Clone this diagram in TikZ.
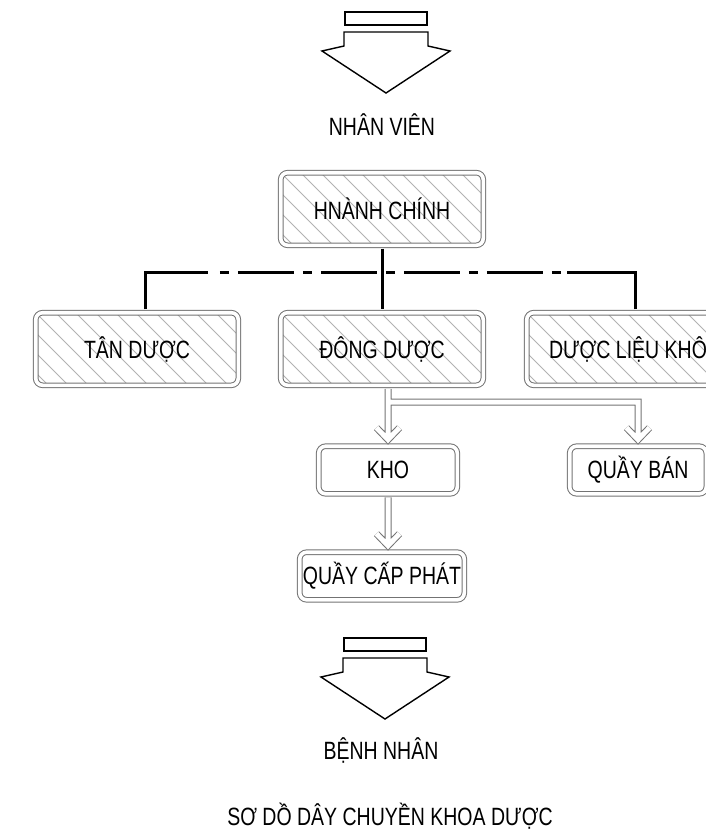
\documentclass[tikz,border=0pt]{standalone}
\usepackage{fontspec}
\setmainfont{Liberation Sans}[FakeStretch=0.78]
\usetikzlibrary{calc}

\begin{document}
\begin{tikzpicture}[x=0.5pt,y=-0.5pt,font=\fontsize{12.5}{14}\selectfont,
  frame/.style={draw=black!55,line width=0.5pt,double=white,double distance=1.8pt,rounded corners=3.5pt,inner sep=0pt},
  hatched/.style={frame,minimum width=101.3pt,minimum height=36.3pt,
    path picture={\foreach \k in {0,...,15}
      \draw[black!30,line width=0.4pt] ([xshift=\k*10pt-40pt]path picture bounding box.north west) -- ++(45pt,-45pt);}},
  plain/.style={frame,minimum height=23.8pt},
  bus/.style={line width=1.5pt,shorten <=1.4pt},
  pipe/.style={draw=black!55,line width=0.5pt,double=white,double distance=2.5pt},
  sign/.style={line width=0.7pt}]
\clip (0,0) rectangle (706,830);
% staff in
\coordinate (staff) at (386,32);
\draw[sign] (staff) ++(-41,-20) rectangle ++(82,13);
\draw[sign] (staff) ++(-42,0) -- ++(84,0) -- ++(0,14) -- ++(22,5) -- ++(-64,42) -- ++(-64,-42) -- ++(22,-5) -- cycle;
\node (nv) at (382,125) {NHÂN VIÊN};
% departments
\node[hatched] (hc) at (382,209) {HNÀNH CHÍNH};
\node[hatched] (tan) at (137,349) {TÂN DƯỢC};
\node[hatched] (dong) at (382,349) {ĐÔNG DƯỢC};
\node[hatched] (dlk) at (628,349) {DƯỢC LIỆU KHÔ};
\coordinate (busL) at (145,272);
\coordinate (busR) at (635,272);
\draw[bus] (tan.north -| busL) -- (busL) -- +(63,0);
\draw[bus] (dlk.north -| busR) -- (busR) -- +(-68,0);
\draw[bus,dash pattern=on 4.5pt off 4.5pt on 28pt off 4.5pt] ($(busL)+(72,0)$) -- ($(busR)+(-68,0)$);
\draw[bus,shorten >=1.4pt] (hc.south) -- (dong.north);
% store and counters
\node[plain,minimum width=69.3pt] (kho) at (388,470) {KHO};
\node[plain,minimum width=68.3pt] (ban) at (638,470) {QUẦY BÁN};
\node[plain,minimum width=82.3pt] (cap) at (382,576) {QUẦY CẤP PHÁT};
\coordinate (split) at (388,402);
\draw[pipe] ($(dong.south -| split)+(0,3)$) -- ($(kho.north)+(0,-6)$) +(-11.5,-12) -- +(0,0) -- +(11.5,-12)
  (split) -| ($(ban.north)+(0,-6)$) +(-11.5,-12) -- +(0,0) -- +(11.5,-12)
  ($(kho.south)+(0,3)$) -- ($(cap.north -| kho.south)+(0,-6)$) +(-11.5,-12) -- +(0,0) -- +(11.5,-12);
% patient out
\coordinate (patient) at (385,658);
\draw[sign] (patient) ++(-41,-20) rectangle ++(82,13);
\draw[sign] (patient) ++(-42,0) -- ++(84,0) -- ++(0,14) -- ++(22,5) -- ++(-64,42) -- ++(-64,-42) -- ++(22,-5) -- cycle;
\node (bn) at (381,750) {BỆNH NHÂN};
\node (title) at (390,816) {SƠ DỒ DÂY CHUYỀN KHOA DƯỢC};
\end{tikzpicture}
\end{document}
